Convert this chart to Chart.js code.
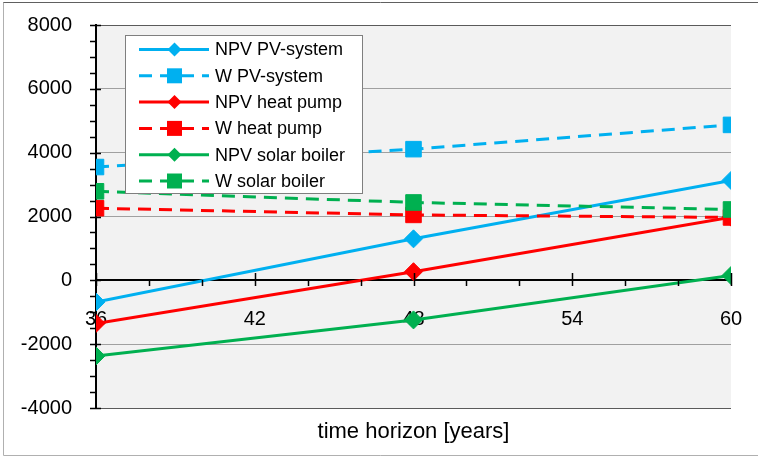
<!DOCTYPE html>
<html>
<head>
<meta charset="utf-8">
<script src="https://cdn.jsdelivr.net/npm/chart.js@4.4.1/dist/chart.umd.min.js"></script>
<style>
  html, body { margin: 0; padding: 0; background: #fff; }
  #wrap { width: 758px; height: 456px; }
</style>
</head>
<body>
<div id="wrap"><canvas id="chart" width="758" height="456"></canvas></div>
<script>
// data
const years = [36, 48, 60];
const npvPV = [-680, 1300, 3130];
const wPV = [3550, 4110, 4870];
const npvHP = [-1350, 270, 1980];
const wHP = [2260, 2050, 1970];
const npvSB = [-2370, -1240, 150];
const wSB = [2790, 2440, 2220];

const seriesNames = ['NPV PV-system', 'W PV-system', 'NPV heat pump', 'W heat pump', 'NPV solar boiler', 'W solar boiler'];
const seriesValues = [npvPV, wPV, npvHP, wHP, npvSB, wSB];

const BLUE = '#00b0f0', RED = '#ff0000', GREEN = '#00b050';
const colors = [BLUE, BLUE, RED, RED, GREEN, GREEN];
const FONT = '"Liberation Sans", Arial, Helvetica, sans-serif';

function makeDataset(i) {
    const dashed = i % 2 === 1;
    return {
        label: seriesNames[i],
        data: years.map((x, j) => ({ x: x, y: seriesValues[i][j] })),
        borderColor: colors[i],
        backgroundColor: colors[i],
        borderWidth: 3,
        borderDash: dashed ? [13, 8] : [],
        pointStyle: dashed ? 'rect' : 'rectRot',
        pointRadius: dashed ? 11 : 9,
        pointBorderWidth: 1,
        pointBackgroundColor: colors[i],
        pointBorderColor: colors[i],
        tension: 0,
        order: 6 - i   // later series on top, like the original
    };
}

// plot background + outer frame
const backgroundPlugin = {
    id: 'bgPlot',
    beforeDraw(chart) {
        const ctx = chart.ctx, a = chart.chartArea;
        ctx.save();
        ctx.fillStyle = '#f2f2f2';
        ctx.fillRect(a.left, a.top, a.right - a.left, a.bottom - a.top);
        // outer border of the picture
        ctx.lineWidth = 1;
        ctx.strokeStyle = '#606060';
        ctx.beginPath(); ctx.moveTo(3, 2.5); ctx.lineTo(758, 2.5); ctx.stroke();
        ctx.strokeStyle = '#b0b0b0';
        ctx.beginPath(); ctx.moveTo(3.5, 2.5); ctx.lineTo(3.5, 455.5); ctx.lineTo(758, 455.5); ctx.stroke();
        ctx.restore();
    }
};

// axis tick marks (major crossing, minor outside) drawn through the scales
const ticksPlugin = {
    id: 'axisTicks',
    afterDraw(chart) {
        const ctx = chart.ctx, xs = chart.scales.x, ys = chart.scales.y;
        const x0 = Math.round(xs.left), y0 = Math.round(ys.getPixelForValue(0));
        ctx.save();
        ctx.strokeStyle = '#000';
        ctx.lineWidth = 1.5;
        ctx.beginPath();
        for (let v = ys.min; v <= ys.max; v += 500) {
            const py = Math.round(ys.getPixelForValue(v)) + 0.5;
            const major = v % 2000 === 0;
            ctx.moveTo(x0 - 6, py); ctx.lineTo(major ? x0 + 5 : x0, py);
        }
        for (let v = xs.min; v <= xs.max; v += 2) {
            const px = Math.round(xs.getPixelForValue(v)) + 0.5;
            const major = (v - 36) % 6 === 0;
            ctx.moveTo(px, major ? y0 - 7 : y0); ctx.lineTo(px, y0 + 6);
        }
        ctx.stroke();
        // x axis title
        ctx.fillStyle = '#000';
        ctx.font = '22px ' + FONT;
        ctx.textAlign = 'center';
        ctx.textBaseline = 'middle';
        ctx.fillText('time horizon [years]', (xs.left + xs.right) / 2, 432);
        ctx.restore();
    }
};

function drawMarker(ctx, style, x, y, color) {
    ctx.fillStyle = color;
    ctx.beginPath();
    if (style === 'rect') {
        ctx.rect(x - 7.5, y - 7.5, 15, 15);
    } else {
        ctx.moveTo(x - 7, y); ctx.lineTo(x, y - 7); ctx.lineTo(x + 7, y); ctx.lineTo(x, y + 7); ctx.closePath();
    }
    ctx.fill();
}

// legend box inside the plot, on top of the lines
const legendPlugin = {
    id: 'boxLegend',
    afterDraw(chart) {
        const ctx = chart.ctx;
        const bx = 125.5, by = 35.5, bw = 237, bh = 158;
        ctx.save();
        ctx.fillStyle = '#fff';
        ctx.fillRect(bx, by, bw, bh);
        ctx.strokeStyle = '#7f7f7f';
        ctx.lineWidth = 1;
        ctx.strokeRect(bx, by, bw, bh);
        ctx.font = '18px ' + FONT;
        ctx.textBaseline = 'middle';
        ctx.textAlign = 'left';
        chart.data.datasets.forEach((ds, i) => {
            const ry = 49.5 + i * 26.3;
            ctx.strokeStyle = ds.borderColor;
            ctx.lineWidth = 3;
            ctx.setLineDash(ds.borderDash.length ? [13, 8] : []);
            ctx.beginPath(); ctx.moveTo(139, ry); ctx.lineTo(209, ry); ctx.stroke();
            ctx.setLineDash([]);
            drawMarker(ctx, ds.pointStyle, 174.5, ry, ds.borderColor);
            ctx.fillStyle = '#000';
            ctx.fillText(ds.label, 215, ry + 1);
        });
        ctx.restore();
    }
};

function noPadding(scale) {
    scale.paddingLeft = 0; scale.paddingRight = 0;
    scale.paddingTop = 0; scale.paddingBottom = 0;
}

new Chart(document.getElementById('chart'), {
    type: 'line',
    data: { datasets: seriesNames.map((n, i) => makeDataset(i)) },
    options: {
        responsive: false,
        animation: false,
        layout: { padding: { left: 0, top: 25, right: 27, bottom: 48 } },
        plugins: { legend: { display: false }, tooltip: { enabled: false } },
        scales: {
            x: {
                type: 'linear',
                min: 36, max: 60,
                position: { y: 0 },
                afterFit: noPadding,
                grid: { display: false },
                border: { display: true, color: '#000', width: 2 },
                ticks: {
                    stepSize: 6, autoSkip: false, maxRotation: 0,
                    padding: 19, color: '#000',
                    font: { family: FONT, size: 20 }
                }
            },
            y: {
                min: -4000, max: 8000,
                afterFit(scale) { noPadding(scale); scale.width = 96; },
                grid: {
                    drawTicks: false,
                    lineWidth: 1,
                    color: (c) => {
                        const v = c.tick ? c.tick.value : null;
                        if (v === 0) return 'rgba(0,0,0,0)';
                        if (v === 8000 || v === -4000) return '#5a5a5a';
                        return '#a0a0a0';
                    }
                },
                border: { display: true, color: '#000', width: 2 },
                ticks: {
                    stepSize: 2000, padding: 24, color: '#000',
                    font: { family: FONT, size: 20 },
                    callback: (v) => String(v)
                }
            }
        }
    },
    plugins: [backgroundPlugin, ticksPlugin, legendPlugin]
});
</script>
</body>
</html>
